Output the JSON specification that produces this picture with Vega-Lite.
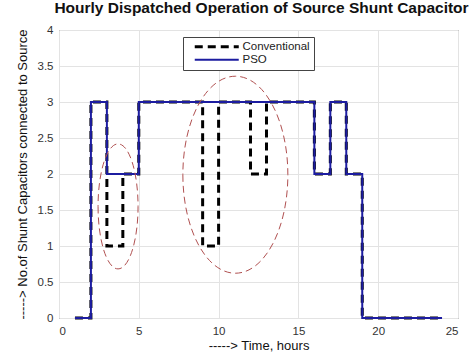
{
  "$schema": "https://vega.github.io/schema/vega-lite/v6.json",
  "width": 399,
  "height": 288,
  "autosize": {"type": "none"},
  "padding": {"left": 59, "top": 30, "right": 15, "bottom": 38},
  "background": "white",
  "config": {
    "font": "Liberation Sans",
    "view": {"stroke": "#555", "strokeWidth": 1}
  },
  "title": {
    "text": "Hourly Dispatched Operation of Source Shunt Capacitor",
    "font": "Liberation Sans",
    "fontSize": 15.5,
    "fontWeight": "bold",
    "color": "#111",
    "anchor": "middle",
    "dx": 3,
    "offset": 8
  },
  "datasets": {
    "steps": [
      {"time": 1, "count": 0, "method": "Conventional"},
      {"time": 2, "count": 3, "method": "Conventional"},
      {"time": 3, "count": 1, "method": "Conventional"},
      {"time": 4, "count": 2, "method": "Conventional"},
      {"time": 5, "count": 3, "method": "Conventional"},
      {"time": 9, "count": 1, "method": "Conventional"},
      {"time": 10, "count": 3, "method": "Conventional"},
      {"time": 12, "count": 2, "method": "Conventional"},
      {"time": 13, "count": 3, "method": "Conventional"},
      {"time": 16, "count": 2, "method": "Conventional"},
      {"time": 17, "count": 3, "method": "Conventional"},
      {"time": 18, "count": 2, "method": "Conventional"},
      {"time": 19, "count": 0, "method": "Conventional"},
      {"time": 24, "count": 0, "method": "Conventional"},
      {"time": 1, "count": 0, "method": "PSO"},
      {"time": 2, "count": 3, "method": "PSO"},
      {"time": 3, "count": 2, "method": "PSO"},
      {"time": 5, "count": 3, "method": "PSO"},
      {"time": 16, "count": 2, "method": "PSO"},
      {"time": 17, "count": 3, "method": "PSO"},
      {"time": 18, "count": 2, "method": "PSO"},
      {"time": 19, "count": 0, "method": "PSO"},
      {"time": 24, "count": 0, "method": "PSO"}
    ],
    "ellipses": [
      {"id": "a", "time": 3.7, "count": 1.55},
      {"id": "b", "time": 11.05, "count": 1.99}
    ]
  },
  "encoding": {
    "x": {
      "field": "time", "type": "quantitative",
      "scale": {"domain": [0, 25], "nice": false, "zero": false},
      "axis": {
        "title": "-----> Time, hours",
        "values": [0, 5, 10, 15, 20, 25],
        "grid": true, "gridColor": "#e3e3e3",
        "ticks": false, "domain": false,
        "labelFontSize": 11.5, "labelColor": "#333", "labelPadding": 7,
        "titleFontSize": 13, "titleFontWeight": "normal", "titleColor": "#111", "titlePadding": 3
      }
    },
    "y": {
      "field": "count", "type": "quantitative",
      "scale": {"domain": [0, 4], "nice": false},
      "axis": {
        "title": "-----> No.of Shunt Capacitors connected to Source",
        "values": [0, 0.5, 1, 1.5, 2, 2.5, 3, 3.5, 4],
        "format": ".1~f",
        "grid": true, "gridColor": "#e3e3e3",
        "ticks": false, "domain": false,
        "labelFontSize": 11.5, "labelColor": "#333", "labelPadding": 6,
        "titleFontSize": 13, "titleFontWeight": "normal", "titleColor": "#111", "titlePadding": 8
      }
    }
  },
  "layer": [
    {
      "data": {"name": "steps"},
      "mark": {"type": "line", "interpolate": "step-after"},
      "encoding": {
        "color": {
          "field": "method", "type": "nominal",
          "scale": {"domain": ["Conventional", "PSO"], "range": ["#000000", "#1c1ca0"]},
          "legend": {
            "title": null, "orient": "none", "legendX": 124, "legendY": 7,
            "direction": "vertical",
            "symbolType": "M -1,0 L 10,0", "symbolSize": 64,
            "symbolOffset": 6,
            "symbolStrokeWidth": 2.5, "labelOffset": 38,
            "labelFontSize": 11.5, "labelColor": "#222",
            "fillColor": "white", "strokeColor": "#444", "padding": 4, "rowPadding": 0
          }
        },
        "strokeDash": {
          "field": "method", "type": "nominal",
          "scale": {"domain": ["Conventional", "PSO"], "range": [[8, 5], [1, 0]]}
        },
        "strokeWidth": {
          "field": "method", "type": "nominal",
          "scale": {"domain": ["Conventional", "PSO"], "range": [3, 2]},
          "legend": null
        }
      }
    },
    {
      "data": {"name": "ellipses"},
      "transform": [{"filter": "datum.id == 'a'"}],
      "mark": {
        "type": "point", "filled": false, "stroke": "#b05050", "strokeWidth": 1,
        "strokeDash": [7, 4], "opacity": 1,
        "shape": "M -0.32,0 A 0.32,1 0 1,0 0.32,0 A 0.32,1 0 1,0 -0.32,0 Z",
        "size": 15625
      }
    },
    {
      "data": {"name": "ellipses"},
      "transform": [{"filter": "datum.id == 'b'"}],
      "mark": {
        "type": "point", "filled": false, "stroke": "#b05050", "strokeWidth": 1,
        "strokeDash": [7, 4], "opacity": 1,
        "shape": "M -0.533,0 A 0.533,1 0 1,0 0.533,0 A 0.533,1 0 1,0 -0.533,0 Z",
        "size": 38809
      }
    }
  ]
}
